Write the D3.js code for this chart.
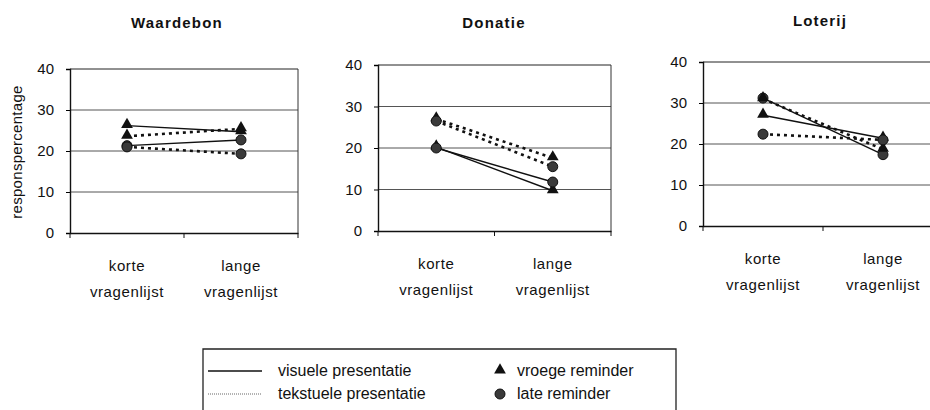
<!DOCTYPE html>
<html>
<head>
<meta charset="utf-8">
<script src="https://cdn.jsdelivr.net/npm/d3@7"></script>
<style>
  body { margin: 0; background: #fff; }
  svg { font-family: "Liberation Sans", Arial, sans-serif; }
</style>
</head>
<body>
<div id="chart"></div>
<script>
// data
const panelTitles = ["Waardebon", "Donatie", "Loterij"];
const categories = ["korte vragenlijst", "lange vragenlijst"];
const yTicks = [0, 10, 20, 30, 40];

// one pair [korte, lange] per panel
const visueelVroeg = [[26.2, 24.7], [20.2, 9.7], [27.0, 21.4]];
const visueelLaat = [[21.3, 22.7], [20.0, 11.8], [31.2, 17.4]];
const tekstVroeg = [[23.6, 25.4], [27.0, 17.6], [31.0, 18.7]];
const tekstLaat = [[21.0, 19.3], [26.5, 15.5], [22.4, 21.0]];

const legendLines = ["visuele presentatie", "tekstuele presentatie"];
const legendMarkers = ["vroege reminder", "late reminder"];

const W = 930, H = 410;

const svg = d3.select("#chart")
  .append("svg")
  .attr("width", W)
  .attr("height", H);

// plot-area boxes of the three small charts
const layout = [
  { x0: 70, x1: 298, y0: 69, y1: 233, tx: 177, ty: 28, border: true },
  { x0: 378, x1: 611, y0: 65, y1: 231, tx: 494, ty: 28, border: true },
  { x0: 703, x1: 943, y0: 62, y1: 226, tx: 820, ty: 26, border: false }
];

const series = [
  { values: visueelVroeg, dotted: false, marker: "triangle" },
  { values: visueelLaat, dotted: false, marker: "circle" },
  { values: tekstVroeg, dotted: true, marker: "triangle" },
  { values: tekstLaat, dotted: true, marker: "circle" }
];

const triangle = d3.symbol().type(d3.symbolTriangle).size(60);

panelTitles.forEach((title, p) => {
  const L = layout[p];
  const g = svg.append("g");

  const x = d3.scaleBand().domain(categories).range([L.x0, L.x1]);
  const y = d3.scaleLinear().domain([0, 40]).range([L.y1, L.y0]);

  // gridlines
  g.append("g")
    .selectAll("line")
    .data(yTicks.filter(t => t > 0))
    .join("line")
    .attr("x1", L.x0).attr("x2", L.x1)
    .attr("y1", d => y(d)).attr("y2", d => y(d))
    .attr("stroke", d => d === 40 ? "#222" : "#555")
    .attr("stroke-width", 1);

  if (L.border) {
    g.append("line")
      .attr("x1", L.x1).attr("x2", L.x1)
      .attr("y1", y(40)).attr("y2", y(0))
      .attr("stroke", "#333");
  }

  // y axis
  const yAxis = g.append("g")
    .attr("transform", `translate(${L.x0},0)`)
    .call(d3.axisLeft(y).tickValues(yTicks).tickSize(4).tickPadding(12));
  yAxis.select(".domain").attr("stroke", "#111").attr("stroke-width", 1.4);
  yAxis.selectAll("text").style("font-size", "15px").attr("fill", "#111");

  // x axis
  const xAxis = g.append("g")
    .attr("transform", `translate(0,${L.y1})`)
    .call(d3.axisBottom(x).tickSize(0).tickFormat(""));
  xAxis.select(".domain").attr("stroke", "#111").attr("stroke-width", 1.3);
  xAxis.append("g")
    .selectAll("line")
    .data([L.x0, L.x0 + x.bandwidth(), L.x1])
    .join("line")
    .attr("x1", d => d).attr("x2", d => d)
    .attr("y1", 0).attr("y2", 5)
    .attr("stroke", "#111");

  // category labels (two lines)
  categories.forEach(c => {
    const parts = c.split(" ");
    const t = g.append("text")
      .attr("text-anchor", "middle")
      .style("font-size", "15px")
      .style("letter-spacing", "0.6px")
      .attr("fill", "#111");
    parts.forEach((s, i) => {
      t.append("tspan")
        .attr("x", x(c) + x.bandwidth() / 2)
        .attr("y", L.y1 + 38 + i * 26)
        .text(s);
    });
  });

  // title
  g.append("text")
    .attr("x", L.tx).attr("y", L.ty)
    .attr("text-anchor", "middle")
    .style("font-size", "15px")
    .style("font-weight", "bold")
    .style("letter-spacing", "1.2px")
    .attr("fill", "#111")
    .text(title);

  const cx = c => x(c) + x.bandwidth() / 2;
  const line = d3.line().x((d, i) => cx(categories[i])).y(d => y(d));

  series.forEach(s => {
    const vals = s.values[p];
    g.append("path")
      .datum(vals)
      .attr("d", line)
      .attr("fill", "none")
      .attr("stroke", "#111")
      .attr("stroke-width", s.dotted ? 2.6 : 1.4)
      .attr("stroke-dasharray", s.dotted ? "3,4" : null);
  });

  series.forEach(s => {
    const vals = s.values[p];
    if (s.marker === "triangle") {
      g.selectAll(null)
        .data(vals)
        .join("path")
        .attr("d", triangle)
        .attr("transform", (d, i) => `translate(${cx(categories[i])},${y(d) - 1})`)
        .attr("fill", "#111");
    } else {
      g.selectAll(null)
        .data(vals)
        .join("circle")
        .attr("cx", (d, i) => cx(categories[i]))
        .attr("cy", d => y(d))
        .attr("r", 5)
        .attr("fill", "#3a3a3a")
        .attr("stroke", "#111")
        .attr("stroke-width", 1);
    }
  });
});

// y axis title
svg.append("text")
  .attr("transform", "translate(22,152) rotate(-90)")
  .attr("text-anchor", "middle")
  .style("font-size", "15px")
  .style("letter-spacing", "0.3px")
  .attr("fill", "#111")
  .text("responspercentage");

// legend
const lg = svg.append("g");
lg.append("path")
  .attr("d", "M203,412 V349 H676 V412")
  .attr("fill", "none")
  .attr("stroke", "#222")
  .attr("stroke-width", 1.3);

const rowY = [371, 394];
legendLines.forEach((label, i) => {
  lg.append("line")
    .attr("x1", 208).attr("x2", 262)
    .attr("y1", rowY[i]).attr("y2", rowY[i])
    .attr("stroke", i === 0 ? "#111" : "#666")
    .attr("stroke-width", i === 0 ? 1.4 : 1)
    .attr("stroke-dasharray", i === 0 ? null : "1,1");
  lg.append("text")
    .attr("x", 278).attr("y", rowY[i] + 5)
    .style("font-size", "16px")
    .attr("fill", "#111")
    .text(label);
});
legendMarkers.forEach((label, i) => {
  if (i === 0) {
    lg.append("path")
      .attr("d", triangle)
      .attr("transform", `translate(500,${rowY[i] - 1})`)
      .attr("fill", "#111");
  } else {
    lg.append("circle")
      .attr("cx", 500).attr("cy", rowY[i])
      .attr("r", 5)
      .attr("fill", "#3a3a3a")
      .attr("stroke", "#111");
  }
  lg.append("text")
    .attr("x", 517).attr("y", rowY[i] + 5)
    .style("font-size", "16px")
    .attr("fill", "#111")
    .text(label);
});
</script>
</body>
</html>
